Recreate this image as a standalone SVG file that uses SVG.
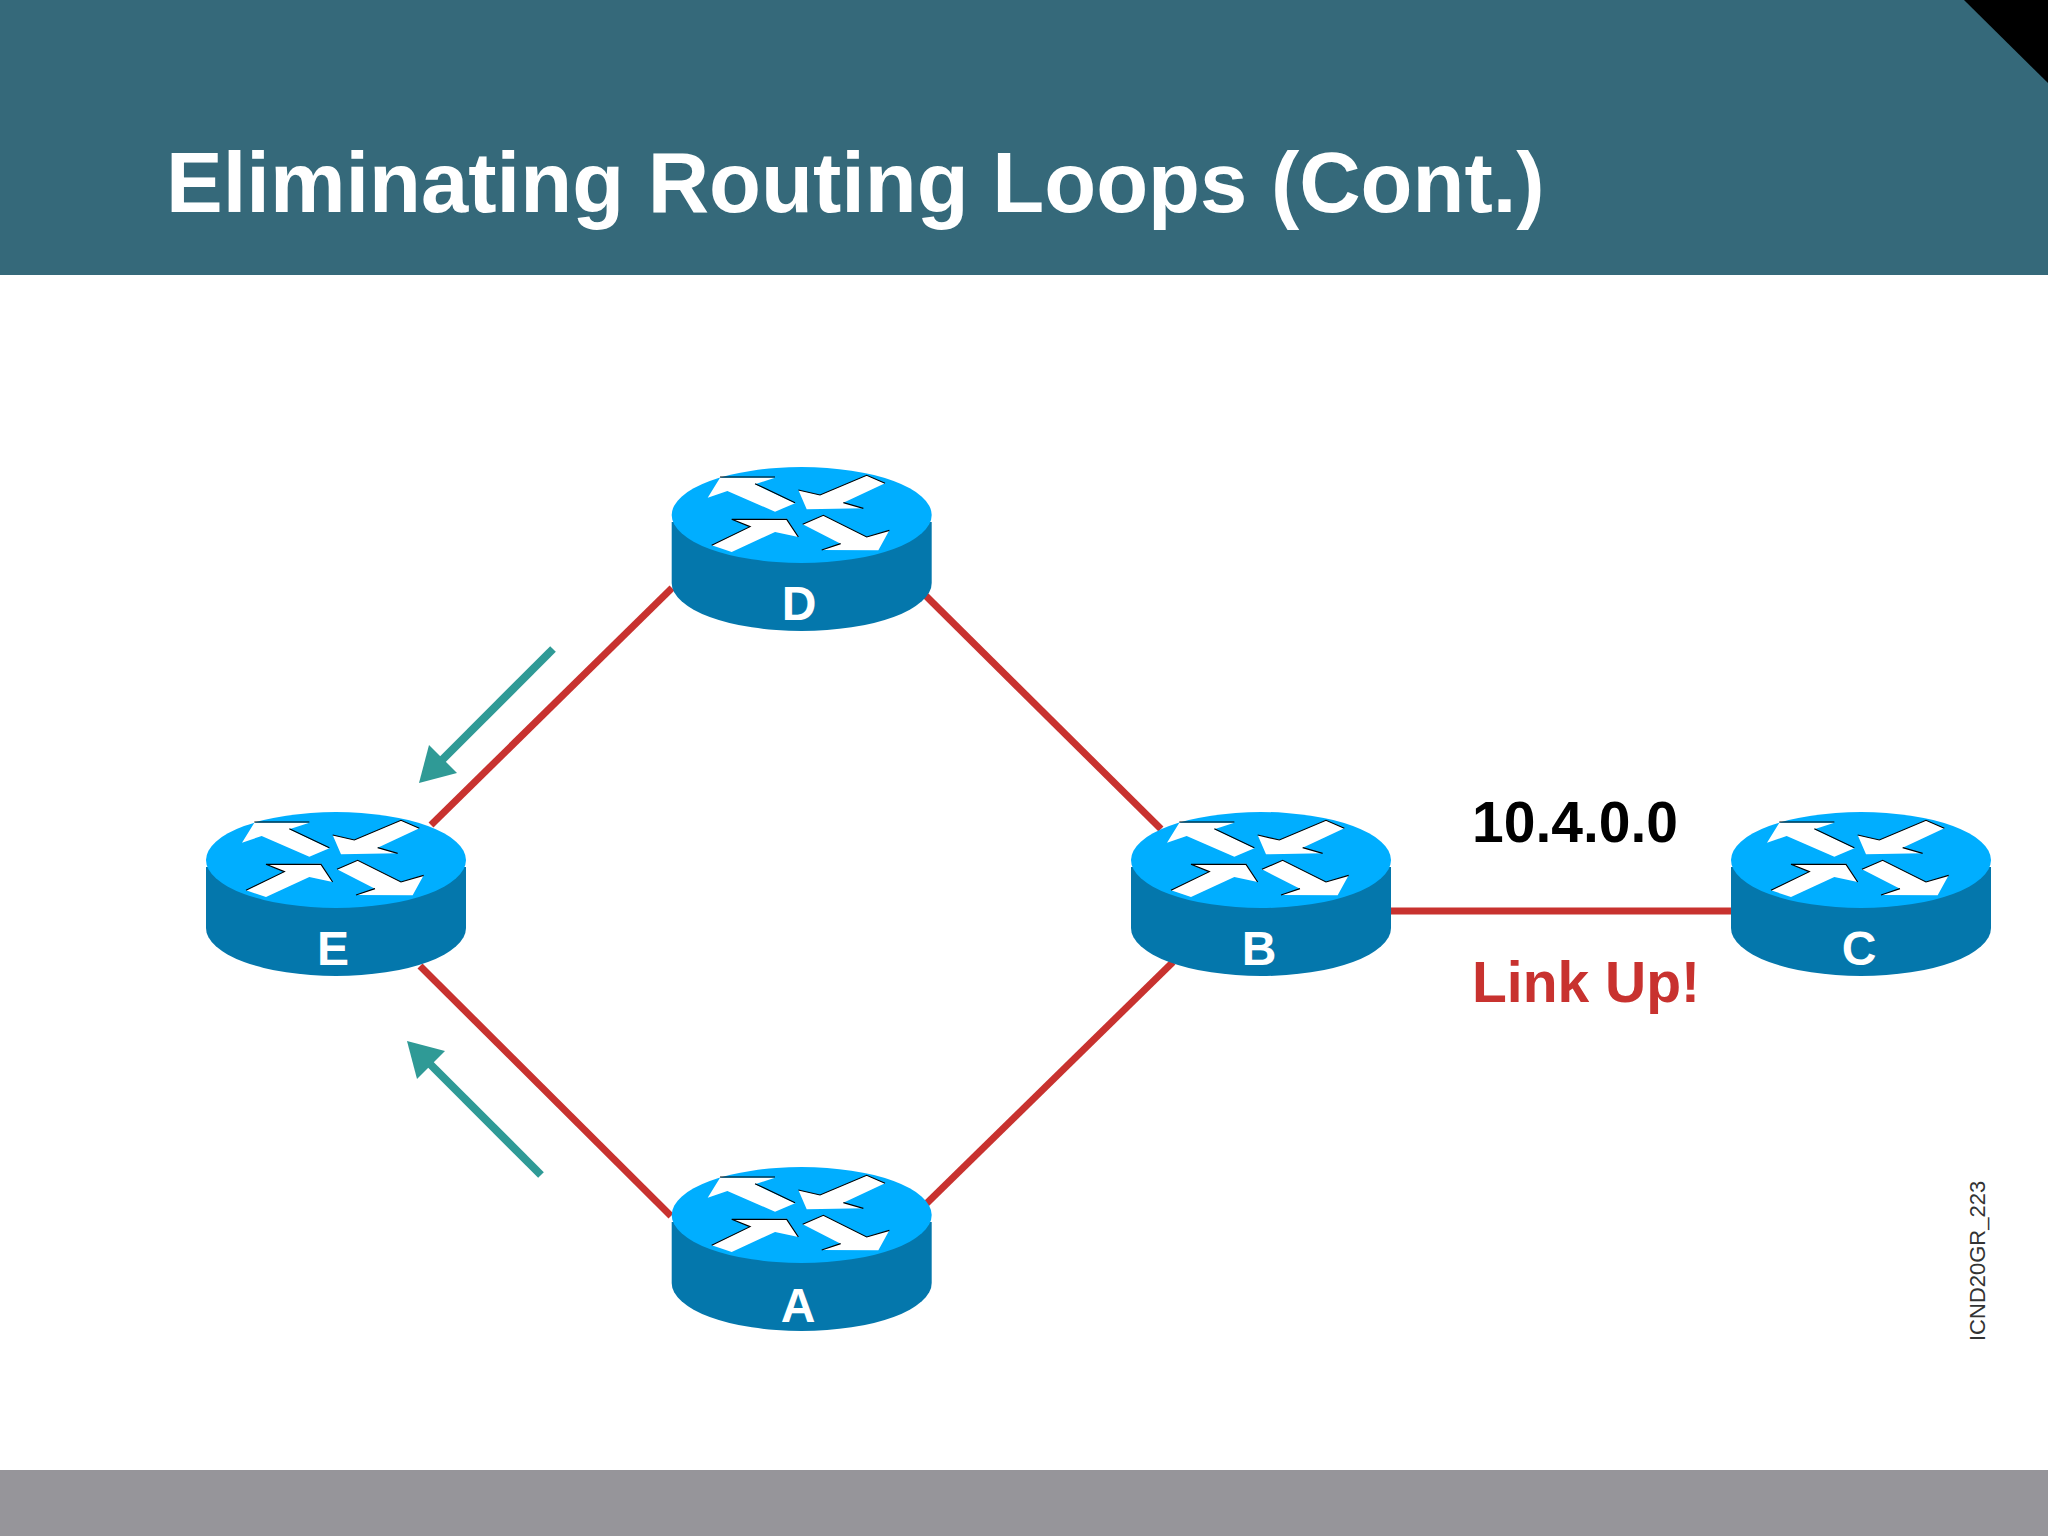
<svg xmlns="http://www.w3.org/2000/svg" width="2048" height="1536" viewBox="0 0 2048 1536">
<style>
text{font-family:"Liberation Sans",Arial,sans-serif}
.link{stroke:#c8322f;stroke-width:7;fill:none}
.flow{stroke:#2f9a96;stroke-width:8;fill:none}
.head{fill:#2f9a96}
.rl{font-size:48px;font-weight:700;fill:#fff;text-anchor:middle}
.side{fill:#0477ac}.top{fill:#00aeff}.ar{fill:#fff}.sh{fill:none;stroke:#000;stroke-width:3.5}
</style>
<defs>
<g id="router">
<path class="side" d="M-130 7V68A130 48 0 0 0 130 68V7Z"/>
<ellipse class="top" cx="0" cy="0" rx="130" ry="48"/>
<g transform="translate(0 1) scale(.3333) translate(-455 -195)">
<polygon class="ar" points="173,140 210,80 375,80 315,100 435,157 375,182 232,120"/>
<polygon class="ar" points="705,97 650,73 510,132 445,117 470,175 640,172 580,155"/>
<polygon class="ar" points="185,283 245,303 375,243 445,258 410,203 245,205 300,227"/>
<polygon class="ar" points="458,220 520,193 650,258 718,238 685,298 515,297 572,278"/>
<path class="sh" d="M210 78H375M315 98L435 155M445 117L510 132L650 73L705 97M580 155L640 172M185 283L300 227L245 205H410L445 258M458 220L520 193L650 258L718 238M515 297L572 278"/>
</g>
</g>
</defs>
<rect width="2048" height="1536" fill="#fff"/>
<rect id="header" width="2048" height="275" fill="#35697a"/>
<polygon id="corner" points="1964,0 2048,0 2048,83" fill="#000"/>
<rect id="footer" y="1470" width="2048" height="66" fill="#96959a"/>
<text id="title" x="166" y="212" font-size="85" font-weight="700" fill="#fff">Eliminating Routing Loops (Cont.)</text>
<g id="connectors">
<line class="link" x1="431" y1="825" x2="672" y2="588"/>
<line class="link" x1="925" y1="595" x2="1161" y2="829"/>
<line class="link" x1="420" y1="966" x2="671" y2="1216"/>
<line class="link" x1="926" y1="1204" x2="1173" y2="962"/>
<line class="link" x1="1390" y1="911" x2="1732" y2="911"/>
<line class="flow" x1="553" y1="649" x2="440" y2="762"/>
<polygon class="head" points="419,783 429,745 457,773"/>
<line class="flow" x1="541" y1="1175" x2="428" y2="1062"/>
<polygon class="head" points="407,1041 417,1079 445,1051"/>
</g>
<g id="node-D"><use href="#router" x="801.7" y="515"/><text class="rl" x="799" y="620">D</text></g>
<g id="node-E"><use href="#router" x="336" y="860"/><text class="rl" x="333" y="965">E</text></g>
<g id="node-B"><use href="#router" x="1261" y="860"/><text class="rl" x="1259" y="965">B</text></g>
<g id="node-C"><use href="#router" x="1861" y="860"/><text class="rl" x="1859" y="965">C</text></g>
<g id="node-A"><use href="#router" x="801.7" y="1215"/><text class="rl" x="798" y="1322">A</text></g>
<text id="net" x="1472" y="842" font-size="57" font-weight="700" fill="#000">10.4.0.0</text>
<text id="status" x="1472" y="1002" font-size="57" font-weight="700" fill="#c8322f">Link Up!</text>
<text id="code" transform="translate(1985 1341) rotate(-90)" font-size="22" fill="#333">ICND20GR_223</text>
</svg>
